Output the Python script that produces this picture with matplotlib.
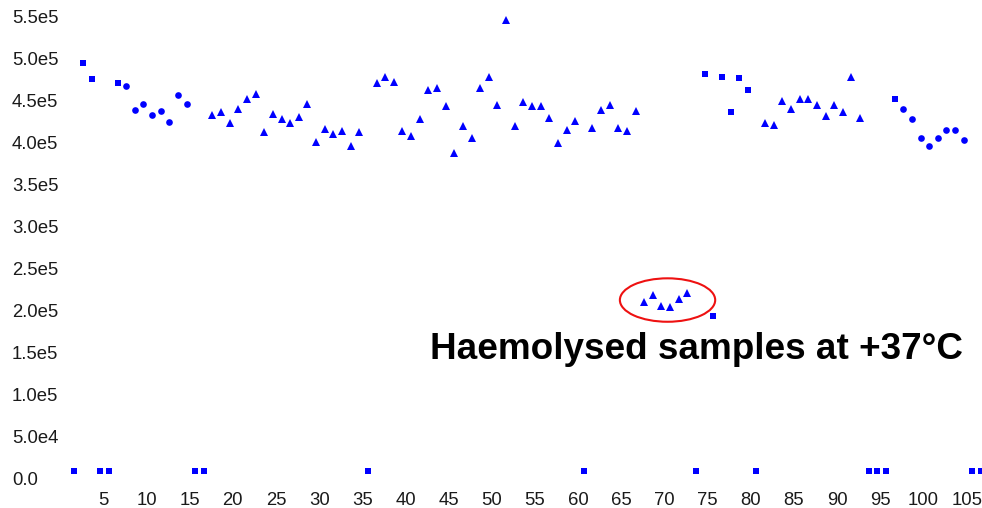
import matplotlib
matplotlib.use("Agg")
import matplotlib.pyplot as plt
from matplotlib.patches import Ellipse

plt.rcParams['font.family'] = ['Liberation Sans', 'DejaVu Sans']

# ---- data (sample number, value) ----
sq_samples = [3, 4, 7, 75, 76, 77, 78, 79, 80, 97]
sq_values = [494000, 475000, 470000, 481000, 194000, 477000, 436000, 476000, 462000, 452000]

low_samples = [2, 5, 6, 16, 17, 36, 61, 74, 81, 94, 95, 96, 106, 107]
low_values = [9000] * len(low_samples)

circ_samples = [8, 9, 10, 11, 12, 13, 14, 15, 98, 99, 100, 101, 102, 103, 104, 105]
circ_values = [467000, 438000, 445000, 432000, 437000, 424000, 456000, 445000,
               439500, 428000, 405000, 396000, 405000, 415000, 415000, 403000]

tri_samples = list(range(18, 36)) + list(range(37, 61)) + list(range(62, 74)) + list(range(82, 94))
tri_values = [433000, 436000, 423000, 440000, 452000, 457000, 412000, 434000, 428000,
              423000, 430000, 445000, 400000, 416000, 410000, 413000, 396000, 412000,
              470000, 478000, 472000, 414000, 408000, 428000, 462000, 464000, 443000,
              387000, 419000, 405000, 465000, 478000, 444000, 545000, 419000, 448000,
              443000, 443000, 429000, 399000, 415000, 425000,
              417000, 438000, 444000, 417000, 413000, 437000,
              210000, 219000, 205500, 204000, 214000, 221000,
              423000, 421000, 449000, 440000, 452000, 451000, 444000, 431000, 444000,
              436000, 478000, 429000]

ytick_vals = [0, 50000, 100000, 150000, 200000, 250000, 300000, 350000, 400000,
              450000, 500000, 550000]
ytick_labels = ['0.0', '5.0e4', '1.0e5', '1.5e5', '2.0e5', '2.5e5', '3.0e5', '3.5e5',
                '4.0e5', '4.5e5', '5.0e5', '5.5e5']
xtick_vals = list(range(5, 106, 5))

annotation = 'Haemolysed samples at +37°C'
circled_center = (70.7, 212600)
circled_size = (11.04, 51600)

X_SHIFT = -0.35  # points sit slightly left of the integer tick positions

BLUE = '#0000ff'

fig = plt.figure(figsize=(9.82, 5.08), dpi=100)
ax = fig.add_axes([50 / 982, 23 / 508, 932 / 982, 480 / 508])

def xs(samples):
    return [s + X_SHIFT for s in samples]

ax.plot(xs(sq_samples), sq_values, 's', color=BLUE, ms=5.0, mew=0)
ax.plot(xs(low_samples), low_values, 's', color=BLUE, ms=4.8, mew=0)
ax.plot(xs(circ_samples), circ_values, 'o', color=BLUE, ms=4.8, mew=0)
ax.plot(xs(tri_samples), tri_values, '^', color=BLUE, ms=5.4, mew=0)

ell = Ellipse((circled_center[0] + X_SHIFT, circled_center[1]), circled_size[0], circled_size[1],
              fill=False, edgecolor='#ee1111', lw=1.5)
ax.add_patch(ell)

ax.set_xlim(-1.17, 106.77)
ax.set_ylim(-7130, 563100)

ax.set_xticks(xtick_vals)
ax.set_xticklabels([str(v) for v in xtick_vals])
ax.set_yticks(ytick_vals)
ax.set_yticklabels(ytick_labels)

for s in ax.spines.values():
    s.set_visible(False)
ax.tick_params(axis='both', length=0, labelsize=13.3, colors='#1a1a1a')
ax.tick_params(axis='x', pad=5)
ax.tick_params(axis='y', pad=38 * 72 / 100)
for lbl in ax.get_yticklabels():
    lbl.set_horizontalalignment('left')

fig.text(430 / 982, (508 - 359.3) / 508, annotation, fontsize=26.6, fontweight='bold',
         ha='left', va='baseline', color='black')

fig.savefig('out.png', dpi=100)
